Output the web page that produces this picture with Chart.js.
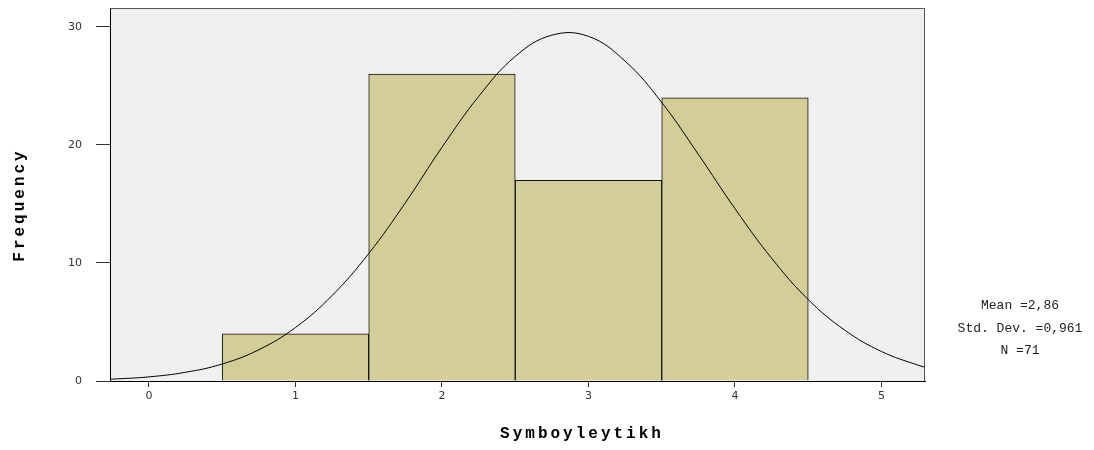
<!DOCTYPE html>
<html>
<head>
<meta charset="utf-8">
<script src="https://cdn.jsdelivr.net/npm/chart.js@4.4.1/dist/chart.umd.min.js"></script>
<style>
  body { margin: 0; background: #fff; }
  #wrap { width: 1094px; height: 450px; }
</style>
</head>
<body>
<div id="wrap"><canvas id="hist" width="1094" height="450"></canvas></div>
<script>
// histogram bins (centre of each bin) and counts
const binCentres = [1, 2, 3, 4];
const counts = [4, 26, 17, 24];

// normal curve
const curveX = [-0.3, -0.25, 0, 0.25, 0.5, 0.75, 1, 1.25, 1.5, 1.75, 2, 2.25, 2.5, 2.75, 3, 3.25, 3.5, 3.75, 4, 4.25, 4.5, 4.75, 5, 5.25, 5.35];
const curveY = [0.14, 0.16, 0.35, 0.74, 1.44, 2.65, 4.53, 7.24, 10.8, 15.1, 19.8, 24.1, 27.5, 29.3, 29.2, 27.1, 23.6, 19.2, 14.6, 10.4, 6.9, 4.3, 2.5, 1.34, 1.0];

const xTicks = [0, 1, 2, 3, 4, 5];
const yTicks = [0, 10, 20, 30];
const statLines = ['Mean =2,86', 'Std. Dev. =0,961', 'N =71'];

const tickFont = { family: 'DejaVu Sans', size: 11 };

const fondo = {
    id: 'fondo',
    beforeDraw(chart) {
        const { ctx, chartArea: a } = chart;
        ctx.save();
        ctx.fillStyle = '#f0f0f0';
        ctx.fillRect(a.left, a.top, a.right - a.left, a.bottom - a.top);
        ctx.restore();
    },
    afterDraw(chart) {
        const { ctx, chartArea: a } = chart;
        ctx.save();
        // marco superior y derecho
        ctx.strokeStyle = '#555';
        ctx.lineWidth = 1;
        ctx.beginPath();
        ctx.moveTo(a.left, a.top + 0.5);
        ctx.lineTo(a.right - 0.5, a.top + 0.5);
        ctx.lineTo(a.right - 0.5, a.bottom);
        ctx.stroke();

        // titulos de ejes
        ctx.fillStyle = '#000';
        ctx.font = 'bold 16px "Liberation Mono"';
        ctx.letterSpacing = '3px';
        ctx.textAlign = 'center';
        ctx.textBaseline = 'middle';
        ctx.fillText('Symboyleytikh', 582, 434);
        ctx.save();
        ctx.translate(20, 205);
        ctx.rotate(-Math.PI / 2);
        ctx.fillText('Frequency', 0, 0);
        ctx.restore();

        // estadisticos
        ctx.letterSpacing = '0px';
        ctx.font = '13px "Liberation Mono"';
        ctx.fillStyle = '#222';
        statLines.forEach((t, i) => {
            ctx.fillText(t, 1020, 306 + i * 22.5);
        });
        ctx.restore();
    }
};

new Chart(document.getElementById('hist'), {
    type: 'bar',
    data: {
        datasets: [
            {
                type: 'line',
                data: curveX.map((x, i) => ({ x: x, y: curveY[i] })),
                borderColor: '#000',
                borderWidth: 1,
                pointRadius: 0,
                tension: 0.4,
                fill: false,
                order: 0
            },
            {
                type: 'bar',
                data: binCentres.map((x, i) => ({ x: x, y: counts[i] })),
                backgroundColor: '#d3ce97',
                borderColor: '#111',
                borderWidth: 1,
                barPercentage: 1,
                categoryPercentage: 1,
                grouped: false,
                order: 1
            }
        ]
    },
    options: {
        responsive: false,
        animation: false,
        layout: { padding: { left: 0, right: 169, top: 8, bottom: 0 } },
        plugins: {
            legend: { display: false },
            tooltip: { enabled: false }
        },
        scales: {
            x: {
                type: 'linear',
                min: -0.266,
                max: 5.297,
                offset: false,
                afterBuildTicks: s => { s.ticks = xTicks.map(v => ({ value: v })); },
                afterFit: s => { s.height = 69; s.paddingLeft = 0; s.paddingRight = 0; },
                grid: { display: true, drawOnChartArea: false, offset: false, tickLength: 6, color: '#333' },
                border: { color: '#000', width: 1 },
                ticks: { font: tickFont, color: '#333', padding: 3, maxRotation: 0 }
            },
            y: {
                min: 0,
                max: 31.6,
                afterBuildTicks: s => { s.ticks = yTicks.map(v => ({ value: v })); },
                afterFit: s => { s.width = 110; s.paddingTop = 0; s.paddingBottom = 0; },
                grid: { display: true, drawOnChartArea: false, tickLength: 14, color: '#333' },
                border: { color: '#000', width: 1 },
                ticks: { font: tickFont, color: '#333', padding: 14 }
            }
        }
    },
    plugins: [fondo]
});
</script>
</body>
</html>
